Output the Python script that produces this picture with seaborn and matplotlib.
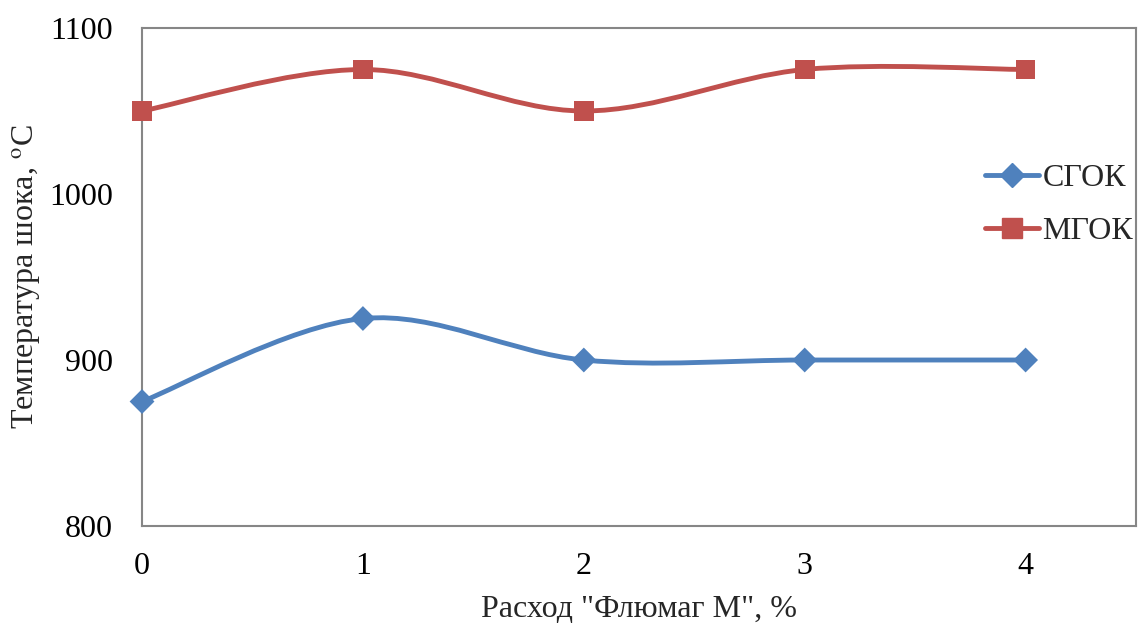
import matplotlib
matplotlib.use("Agg")
import matplotlib.pyplot as plt
from matplotlib.path import Path
from matplotlib.patches import PathPatch
from matplotlib.lines import Line2D
import numpy as np
import pandas as pd
import seaborn as sns

# --- data ---
flumag = [0, 1, 2, 3, 4]
sgok = [875, 925, 900, 900, 900]
mgok = [1050, 1075, 1050, 1075, 1075]
series_names = ["СГОК", "МГОК"]
x_ticks = [0, 1, 2, 3, 4]
y_ticks = [800, 900, 1000, 1100]

COLORS = {"СГОК": "#4F81BD", "МГОК": "#C0504D"}
MARKERS = {"СГОК": "D", "МГОК": "s"}
MSIZE = {"СГОК": 12, "МГОК": 14}
FS = 23

sns.set_theme(style="white")
plt.rcParams["font.family"] = ["Liberation Serif", "DejaVu Serif"]
plt.rcParams["mathtext.fontset"] = "stix"

df = pd.DataFrame({
    "x": flumag * 2,
    "y": sgok + mgok,
    "series": [series_names[0]] * len(flumag) + [series_names[1]] * len(flumag),
})


def smooth_path(xs, ys):
    # Excel-like smoothed line: cubic Bezier through the points
    pts = np.column_stack([xs, ys]).astype(float)
    ext = np.vstack([pts[0], pts, pts[-1]])
    verts = [tuple(pts[0])]
    codes = [Path.MOVETO]
    for i in range(1, len(ext) - 2):
        p0, p1, p2, p3 = ext[i - 1], ext[i], ext[i + 1], ext[i + 2]
        c1 = p1 + (p2 - p0) / 6.0
        c2 = p2 - (p3 - p1) / 6.0
        verts += [tuple(c1), tuple(c2), tuple(p2)]
        codes += [Path.CURVE4] * 3
    return Path(verts, codes)


fig = plt.figure(figsize=(11.39, 6.26), dpi=100)
ax = fig.add_axes([0.1247, 0.1597, 0.8727, 0.7956])

for name in series_names:
    sub = df[df["series"] == name]
    patch = PathPatch(smooth_path(sub["x"].values, sub["y"].values),
                      facecolor="none", edgecolor=COLORS[name], lw=3.5,
                      capstyle="round", joinstyle="round", zorder=2)
    ax.add_patch(patch)

sns.scatterplot(data=df, x="x", y="y", hue="series", style="series",
                palette=COLORS, markers=MARKERS, size="series",
                sizes={"СГОК": 160, "МГОК": 200}, edgecolor="none",
                legend=False, ax=ax, zorder=3, clip_on=False)

ax.set_xlim(0, 4.5)
ax.set_ylim(800, 1100)
ax.set_xticks(x_ticks)
ax.set_yticks(y_ticks)
ax.tick_params(axis="both", direction="in", length=6, width=1.2, color="#868686",
               labelsize=FS, labelcolor="black")
ax.tick_params(axis="x", pad=19)
ax.tick_params(axis="y", pad=21)
for s in ax.spines.values():
    s.set_color("#868686")
    s.set_linewidth(1.5)

ax.set_xlabel('Расход "Флюмаг М", %', fontsize=FS, labelpad=10)
ax.set_ylabel("Температура шока, $^{\\mathrm{o}}$С", fontsize=FS, labelpad=4)
ax.grid(False)

handles = [Line2D([0], [0], color=COLORS[n], lw=3.5, marker=MARKERS[n],
                  markersize=MSIZE[n], solid_capstyle="round") for n in series_names]
ax.legend(handles, series_names, loc="center left", bbox_to_anchor=(0.835, 0.645),
          borderaxespad=0, frameon=False, fontsize=FS, handlelength=1.7,
          handletextpad=0.1, labelspacing=0.75)

fig.savefig("out.png", dpi=100)
